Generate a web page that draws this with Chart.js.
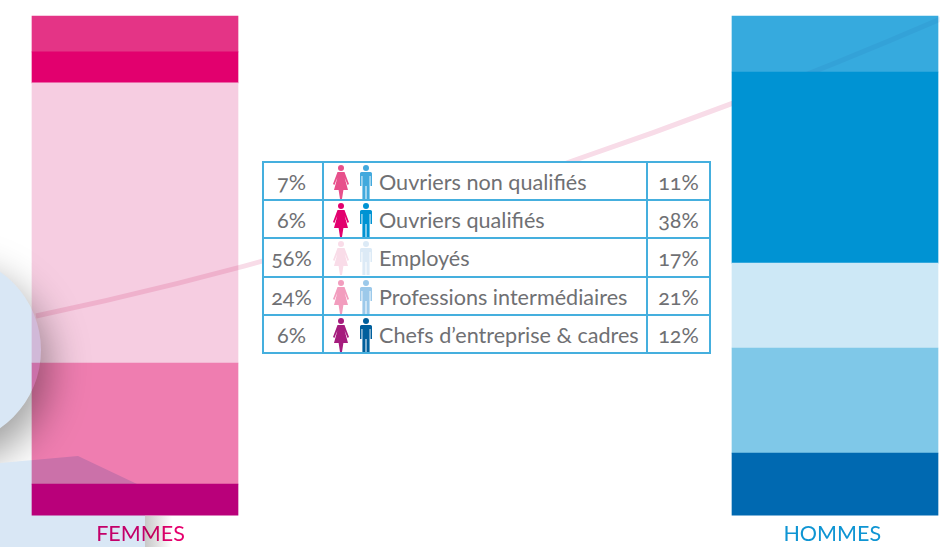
<!DOCTYPE html>
<html lang="fr"><head><meta charset="utf-8">
<script src="https://cdn.jsdelivr.net/npm/chart.js@4"></script>
<style>
html,body{margin:0;padding:0;background:#fff;overflow:hidden}
#wrap{position:relative;width:940px;height:547px}
canvas{position:absolute;left:0;top:0}
table{position:absolute;left:262px;top:161px;width:449px;height:193px;border-collapse:collapse;table-layout:fixed;background:#fff;
 font-family:Lato,sans-serif;font-size:21.6px;color:#6f7073;font-variant-numeric:oldstyle-nums}
td{border:2px solid #45afde;padding:0;height:36px;text-align:center;white-space:nowrap;overflow:hidden}
td.first{padding-right:3px}
td.lab{text-align:left;padding-left:8px}
td.lab svg{vertical-align:middle;position:relative;top:1px}
td.lab span{vertical-align:middle;margin-left:6px;position:relative;top:1px}
td.num span{position:relative;top:1px}
</style></head><body><div id="wrap"><canvas id="c" width="940" height="547"></canvas>
<table id="t"><colgroup><col style="width:60px"><col style="width:324px"><col style="width:63px"></colgroup><tbody></tbody></table></div>
<script>
const groups = ["FEMMES","HOMMES"];
const categories = ["Chefs d’entreprise & cadres","Professions intermédiaires","Employés","Ouvriers qualifiés","Ouvriers non qualifiés"];
const femmesLabels = ["6%","24%","56%","6%","7%"];
const hommesLabels = ["12%","21%","17%","38%","11%"];
const femmesHeights = [6.15,24.0,55.6,6.15,7.1];
const hommesHeights = [12.3,20.85,16.85,37.9,11.1];
const femmesColors = ["#b9007a","#ef7db0","#f6cde1","#e2006e","#e43486"];
const hommesColors = ["#0069b1","#7fc8e8","#cde8f6","#0093d3","#36aade"];
const femmeIcons = ["#a51c7d","#f29dbe","#f9dce8","#e2006e","#e7508b"];
const hommeIcons = ["#005f9c","#9cc9ea","#dceaf6","#0093d3","#42a9dd"];

const tb=document.querySelector('#t tbody');
const figF=c=>`<svg width="18" height="34" viewBox="0 0 18 34"><circle cx="9" cy="3" r="3" fill="${c}"/><path fill="${c}" d="M5.5 7H12.5L17 19L15.6 20L12.6 12.5L16 25H11.4L10 34H8L6.6 25H2L5.4 12.5L2.4 20L1 19Z"/></svg>`;
const figM=c=>`<svg width="14" height="34" viewBox="0 0 14 34" style="margin-left:9px"><circle cx="7" cy="3" r="3" fill="${c}"/><path fill="${c}" d="M2.5 7H11.5Q13 7 13 8.5V21H11.5V11H10.6V34H7.5V21H6.5V34H3.4V11H2.5V21H1V8.5Q1 7 2.5 7Z"/></svg>`;
for(let i=categories.length-1;i>=0;i--){
  const tr=document.createElement('tr');
  tr.innerHTML=`<td class="num first"><span>${femmesLabels[i]}</span></td><td class="lab">${figF(femmeIcons[i])}${figM(hommeIcons[i])}<span>${categories[i]}</span></td><td class="num"><span>${hommesLabels[i]}</span></td>`;
  tb.appendChild(tr);
}

const decor={id:'decor',beforeDatasetDraw(chart,args){
  if(args.index!==0) return;
  const ctx=chart.ctx;
  const blocked=chart.getDatasetMeta(3).data[1].getProps(['x','y','base','width'],true);
  ctx.save();
  ctx.beginPath();ctx.rect(0,0,940,547);
  ctx.rect(blocked.x-blocked.width/2,blocked.y,blocked.width,blocked.base-blocked.y);
  ctx.clip('evenodd');
  ctx.globalCompositeOperation='multiply';
  const poly=p=>{p.moveTo(0,463);p.lineTo(78,456);p.lineTo(137,484);p.lineTo(145,515);p.lineTo(145,547);p.lineTo(0,547);p.closePath();};
  const disc=p=>{p.moveTo(41,350);p.arc(-54,350,95,0,Math.PI*2);p.closePath();};
  // pink curve
  const curve=new Path2D();curve.moveTo(36,316);curve.quadraticCurveTo(320,256,575,160);curve.quadraticCurveTo(760,97,945,17);
  ctx.lineWidth=5;
  ctx.save();ctx.beginPath();ctx.rect(0,0,732,547);ctx.clip();ctx.strokeStyle='#f8dce8';ctx.stroke(curve);ctx.restore();
  ctx.save();ctx.beginPath();ctx.rect(732,0,208,547);ctx.clip();ctx.strokeStyle='#eef3f9';ctx.stroke(curve);ctx.restore();
  // disc shadow, outside the disc and the lower shape
  ctx.save();
  const cp=new Path2D();cp.rect(0,0,940,547);poly(cp);disc(cp);ctx.clip(cp,'evenodd');
  ctx.shadowColor='rgba(0,0,0,0.38)';ctx.shadowBlur=40;ctx.shadowOffsetX=8;ctx.shadowOffsetY=18;
  ctx.fillStyle='#fff';const d=new Path2D();disc(d);ctx.fill(d);
  ctx.restore();
  // disc and lower shape
  ctx.fillStyle='#d9e7f5';
  const d2=new Path2D();disc(d2);ctx.fill(d2);
  const p=new Path2D();poly(p);ctx.fill(p);
  // shadow at lower right of the shape
  const g=ctx.createLinearGradient(145,0,172,0);g.addColorStop(0,'#c8c8c8');g.addColorStop(1,'#ffffff');
  ctx.fillStyle=g;ctx.fillRect(145,516,27,31);
  ctx.restore();
}};
function series(i){return{label:categories[i],data:[femmesHeights[i],hommesHeights[i]],backgroundColor:[femmesColors[i],hommesColors[i]],borderWidth:0,clip:false,barThickness:206,stack:'s'};}
new Chart(document.getElementById('c'),{type:'bar',
  data:{labels:groups,datasets:categories.map((_,i)=>series(i))},
  options:{responsive:false,animation:false,events:[],
    layout:{padding:{left:135,right:105,top:16,bottom:0}},
    plugins:{legend:{display:false},tooltip:{enabled:false},title:{display:false}},
    scales:{
      x:{stacked:true,offset:false,grid:{display:false,tickLength:6},border:{display:false},
         ticks:{maxRotation:0,autoSkip:false,padding:0,font:{family:'Lato',size:21.5},color:c=>c.index===0?'#e6006e':'#0f95d3',
           callback(v,i){return i===0?'\u00a0\u00a0'+groups[i]:groups[i]+'\u00a0';}}},
      y:{stacked:true,display:false,min:0,max:99}}},
  plugins:[decor]});
</script></body></html>
